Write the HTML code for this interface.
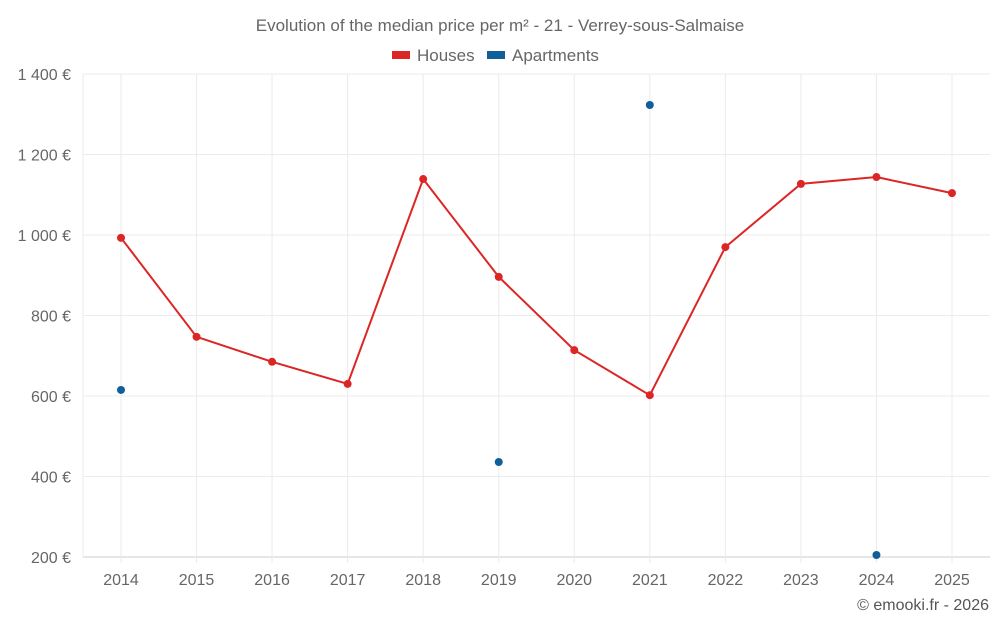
<!DOCTYPE html>
<html><head><meta charset="utf-8"><style>
body{margin:0;background:#fff;font-family:"Liberation Sans",sans-serif;}
svg{display:block}
</style></head><body>
<svg id="chart" width="1000" height="625">
<text x="500" y="31" text-anchor="middle" font-size="17" fill="#666">Evolution of the median price per m² - 21 - Verrey-sous-Salmaise</text>
<g>
<g><rect x="392" y="51" width="18" height="8" fill="#dc2626"/><text x="417" y="61" font-size="17" fill="#666">Houses</text></g>
<g><rect x="487" y="51" width="18" height="8" fill="#0f5f9a"/><text x="512" y="61" font-size="17" fill="#666">Apartments</text></g>
</g>
<g id="grid"></g><g id="axes"></g><g id="marks"></g>
<text x="989" y="610" text-anchor="end" font-size="16" fill="#555">© emooki.fr - 2026</text>
</svg>
<script>
const years=[2014,2015,2016,2017,2018,2019,2020,2021,2022,2023,2024,2025];
const houses=[993,747,685,630,1139,896,714,602,970,1127,1144,1104];
const apartments=[615,null,null,null,null,436,null,1323,null,null,205,null];
const yTicks=[200,400,600,800,1000,1200,1400];
const yLabels=["200 €","400 €","600 €","800 €","1 000 €","1 200 €","1 400 €"];
const L=83,R=990,T=74,B=557,ymin=200,ymax=1400;
const x=i=>121+i*(952-121)/(years.length-1);
const y=v=>B-(v-ymin)/(ymax-ymin)*(B-T);
const NS="http://www.w3.org/2000/svg";
function mk(p,t,a){const e=document.createElementNS(NS,t);for(const k in a)e.setAttribute(k,a[k]);p.appendChild(e);return e;}
const g=document.getElementById('grid'),ax=document.getElementById('axes'),m=document.getElementById('marks');
yTicks.forEach((v,i)=>{
const l=mk(g,'line',{x1:L,x2:R,y1:y(v),y2:y(v),stroke:i==0?'#ccc':'#ebebeb'});


const t=mk(ax,'text',{x:71,y:y(v)+6,'text-anchor':'end','font-size':16,fill:'#666'});t.textContent=yLabels[i];


});
mk(g,'line',{x1:L,x2:L,y1:T,y2:B,stroke:'#ebebeb'});
years.forEach((yr,i)=>{
const l=mk(g,'line',{x1:x(i),x2:x(i),y1:T,y2:B+6,stroke:'#ebebeb'});


const t=mk(ax,'text',{x:x(i),y:585,'text-anchor':'middle','font-size':16,fill:'#666'});t.textContent=yr;


});
const pl=mk(m,'polyline',{points:houses.map((v,i)=>x(i)+','+y(v)).join(' '),fill:'none',stroke:'#dc2626','stroke-width':2});


houses.forEach((v,i)=>{const c=mk(m,'circle',{cx:x(i),cy:y(v),r:4,fill:'#dc2626'});

});
apartments.forEach((v,i)=>{if(v==null)return;const c=mk(m,'circle',{cx:x(i),cy:y(v),r:4,fill:'#0f5f9a'});

});
</script>
</body></html>
